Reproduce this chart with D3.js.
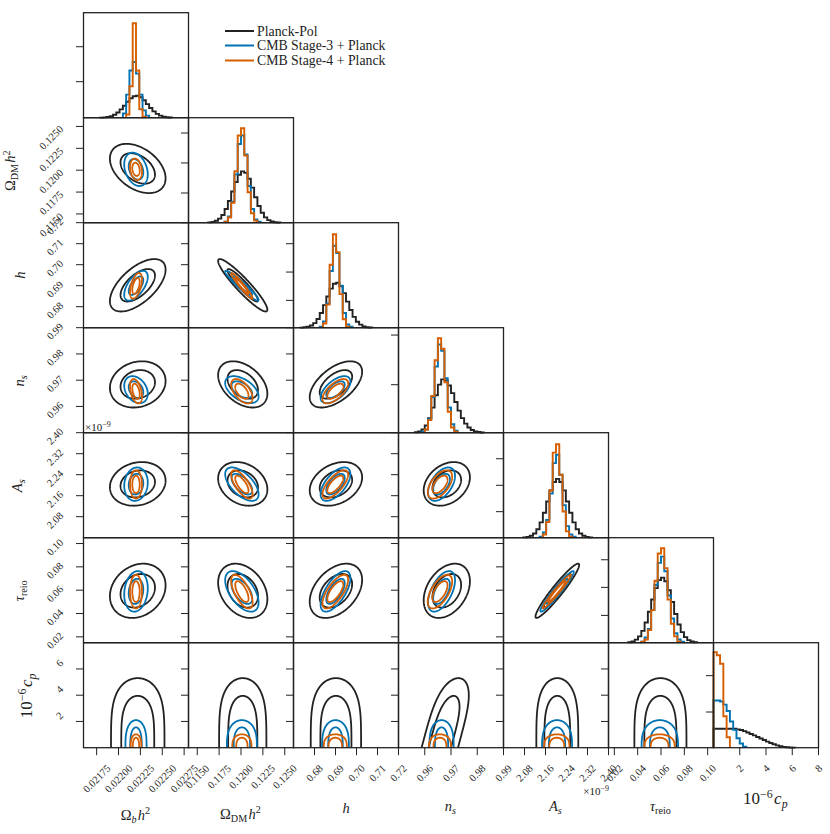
<!DOCTYPE html>
<html><head><meta charset="utf-8">
<script src="https://cdn.jsdelivr.net/npm/d3@7"></script>
<style>body{margin:0;background:#fff}svg{display:block}text{font-family:"Liberation Serif","DejaVu Serif",serif;fill:#222}</style>
</head><body><svg id="c" width="830" height="834"></svg>
<script>
// ---------------- data ----------------
const seriesNames = ["Planck-Pol", "CMB Stage-3 + Planck", "CMB Stage-4 + Planck"];
const seriesColors = ["#222222", "#0072b2", "#d55e00"];

const domains = [[0.0216, 0.0228], [0.114, 0.126], [0.67, 0.72], [0.95, 0.99], [2.0, 2.4], [0.015, 0.105], [0, 8]];
const tickVals = [
  [0.02175, 0.022, 0.02225, 0.0225, 0.02275],
  [0.115, 0.1175, 0.12, 0.1225, 0.125],
  [0.68, 0.69, 0.70, 0.71, 0.72],
  [0.96, 0.97, 0.98, 0.99],
  [2.08, 2.16, 2.24, 2.32, 2.40],
  [0.02, 0.04, 0.06, 0.08, 0.10],
  [2, 4, 6, 8]];
const tickText = [
  ["0.02175", "0.02200", "0.02225", "0.02250", "0.02275"],
  ["0.1150", "0.1175", "0.1200", "0.1225", "0.1250"],
  ["0.68", "0.69", "0.70", "0.71", "0.72"],
  ["0.96", "0.97", "0.98", "0.99"],
  ["2.08", "2.16", "2.24", "2.32", "2.40"],
  ["0.02", "0.04", "0.06", "0.08", "0.10"],
  ["2", "4", "6", "8"]];
const cpRowTicks = [2, 4, 6];

// per-series means / sigmas (Ω_b h², Ω_DM h², h, n_s, A_s[1e-9], τ_reio)
const meanPlanck = [0.02222, 0.1202, 0.6902, 0.9684, 2.205, 0.0595];
const sigmaPlanck = [0.000130, 0.00115, 0.0051, 0.0036, 0.034, 0.0095];
const meanS3 = [0.02220, 0.1201, 0.6900, 0.9664, 2.204, 0.0590];
const sigmaS3 = [0.000055, 0.00078, 0.0029, 0.0021, 0.026, 0.0071];
const meanS4 = [0.02220, 0.1201, 0.6899, 0.9658, 2.203, 0.0588];
const sigmaS4 = [0.000028, 0.00050, 0.0025, 0.0019, 0.022, 0.0059];
// correlations, pairs (row,col): (1,0),(2,0),(2,1),(3,0),(3,1),(3,2),(4,0),(4,1),(4,2),(4,3),(5,0),(5,1),(5,2),(5,3),(5,4)
const rhoPlanck = [-0.40, 0.60, -0.93, 0.15, -0.40, 0.55, 0.15, -0.25, 0.30, 0.30, 0.20, -0.30, 0.40, 0.35, 0.95];
const rhoS3 = [-0.30, 0.60, -0.95, -0.30, -0.50, 0.60, 0.10, -0.60, 0.60, 0.50, 0.15, -0.55, 0.65, 0.55, 0.96];
const rhoS4 = [-0.20, 0.50, -0.96, -0.40, -0.55, 0.65, 0.00, -0.70, 0.70, 0.55, 0.00, -0.65, 0.70, 0.60, 0.97];

// 10^-6 c_p contours (one-sided): top of 95% / 68% contour, half-widths in sigma of the other parameter
const archTop95 = [5.3, 2.1, 1.02];
const archTop68 = [3.95, 1.55, 0.76];
const archK95 = [2.35, 2.2, 2.2];
const archK68 = [1.45, 1.2, 1.3];
const archPow = [4, 3, 3];
const archShearNs = [0.00134, 0, 0];
const archWidthNs = [0.82, 1, 1];

// 1D histograms: 32 equal bins across each panel range, heights as fraction of panel height
const histPlanck = [
  [0,0,0,0,0,0.001,0.003,0.007,0.015,0.028,0.049,0.079,0.114,0.152,0.185,0.205,0.209,0.195,0.166,0.129,0.093,0.060,0.036,0.020,0.010,0.004,0.002],
  [0,0,0,0,0,0,0.003,0.008,0.019,0.039,0.074,0.131,0.207,0.297,0.387,0.457,0.489,0.475,0.419,0.334,0.242,0.159,0.095,0.051,0.025,0.011,0.005,0.002],
  [0,0,0.001,0.004,0.009,0.021,0.044,0.083,0.140,0.215,0.297,0.372,0.419,0.428,0.395,0.329,0.248,0.169,0.103,0.057,0.029,0.013,0.005,0.002],
  [0,0,0,0,0,0.004,0.011,0.030,0.069,0.138,0.239,0.356,0.458,0.508,0.498,0.450,0.377,0.292,0.210,0.139,0.086,0.049,0.026,0.013,0.006,0.002],
  [0,0,0,0,0,0,0.003,0.007,0.018,0.040,0.081,0.146,0.237,0.345,0.451,0.531,0.560,0.531,0.451,0.345,0.237,0.146,0.081,0.040,0.018,0.007,0.003],
  [0,0,0,0,0,0,0.005,0.013,0.029,0.060,0.113,0.192,0.295,0.411,0.520,0.596,0.620,0.585,0.500,0.388,0.273,0.174,0.101,0.053,0.025,0.011,0.004],
  [0.18,0.18,0.18,0.18,0.18,0.18,0.18,0.175,0.168,0.158,0.145,0.131,0.117,0.102,0.088,0.073,0.058,0.045,0.033,0.022,0.014,0.008,0.004,0.002,0.001]];
const histS3 = [
  [0,0,0,0,0,0,0,0,0,0,0,0,0.04,0.22,0.45,0.53,0.42,0.22,0.07,0.02],
  [0,0,0,0,0,0,0,0,0,0,0,0.01,0.06,0.20,0.46,0.75,0.83,0.65,0.35,0.13,0.03,0.01],
  [0,0,0,0,0,0,0,0,0.01,0.06,0.23,0.54,0.78,0.71,0.40,0.14,0.03,0.01],
  [0,0,0,0,0,0,0,0.01,0.03,0.13,0.34,0.63,0.84,0.78,0.52,0.24,0.08,0.02],
  [0,0,0,0,0,0,0,0,0,0,0,0.01,0.05,0.17,0.42,0.71,0.79,0.60,0.31,0.11,0.03,0.01],
  [0,0,0,0,0,0,0,0,0,0,0.01,0.05,0.13,0.31,0.55,0.76,0.82,0.68,0.45,0.23,0.09,0.03,0.01],
  [0.45,0.45,0.44,0.41,0.35,0.25,0.17,0.09,0.04,0.01]];
const histS4 = [
  [0,0,0,0,0,0,0,0,0,0,0,0,0,0.03,0.30,0.90,0.45,0.08,0.01],
  [0,0,0,0,0,0,0,0,0,0,0,0.01,0.05,0.19,0.49,0.83,0.90,0.64,0.29,0.09,0.02],
  [0,0,0,0,0,0,0,0,0,0.04,0.22,0.60,0.89,0.72,0.32,0.08,0.01],
  [0,0,0,0,0,0,0,0,0.03,0.12,0.35,0.69,0.90,0.80,0.48,0.20,0.05,0.01],
  [0,0,0,0,0,0,0,0,0,0,0,0,0.03,0.15,0.45,0.81,0.89,0.60,0.25,0.06,0.01],
  [0,0,0,0,0,0,0,0,0,0,0.01,0.03,0.12,0.31,0.59,0.85,0.90,0.71,0.41,0.18,0.06,0.01],
  [0.91,0.88,0.80,0.30,0.10]];
// density-axis tick positions on the diagonal panels (fraction of panel height)
const diagTicks = [[0.343,0.676],[0.283,0.569,0.854],[0.26,0.53,0.80],[0.457,0.93],[0.248,0.499,0.752],[0.26,0.527,0.79],[0.34,0.686]];

// ---------------- drawing ----------------
const svg = d3.select("#c");
const N = 7, NB = 32;
const P0x = 83.5, P0y = 12.7, PS = 105;
const px = c => P0x + c * PS, py = r => P0y + r * PS;
const xs = domains.map((d, i) => d3.scaleLinear().domain(d).range([px(i), px(i) + PS]));
const ys = domains.map((d, i) => d3.scaleLinear().domain(d).range([py(i) + PS, py(i)]));
const means = [meanPlanck, meanS3, meanS4];
const sigmas = [sigmaPlanck, sigmaS3, sigmaS4];
const rhos = [rhoPlanck, rhoS3, rhoS4];
const hists = [histPlanck, histS3, histS4];
const line = d3.line().x(d => d[0]).y(d => d[1]);

const gContent = svg.append("g");
// diagonal histograms
for (let i = 0; i < N; i++) {
  const yh = d3.scaleLinear().domain([0, 1]).range([py(i) + PS, py(i)]);
  const bw = (domains[i][1] - domains[i][0]) / NB;
  hists.forEach((hs, s) => {
    const h = hs[i];
    let first = h.findIndex(v => v > 0), last = h.length - 1;
    while (last > 0 && !(h[last] > 0)) last--;
    const pts = [[xs[i](domains[i][0] + first * bw), yh(0)]];
    for (let b = first; b <= last; b++) {
      const x0 = xs[i](domains[i][0] + b * bw), x1 = xs[i](domains[i][0] + (b + 1) * bw);
      pts.push([x0, yh(h[b])], [x1, yh(h[b])]);
    }
    pts.push([xs[i](domains[i][0] + (last + 1) * bw), yh(0)]);
    gContent.append("path").attr("d", line(pts)).attr("fill", "none")
      .attr("stroke", seriesColors[s]).attr("stroke-width", 1.9).attr("stroke-linejoin", "miter");
  });
}
// 2D contours
const levels = [2.447, 1.515];
for (let r = 1; r < N; r++) {
  for (let c = 0; c < r; c++) {
    const clipId = `clip${r}_${c}`;
    svg.append("clipPath").attr("id", clipId).append("rect").attr("x", px(c)).attr("y", py(r)).attr("width", PS).attr("height", PS);
    const g = gContent.append("g").attr("clip-path", `url(#${clipId})`);
    for (let s = 0; s < 3; s++) {
      const mx = means[s][c], sx = sigmas[s][c];
      if (r < 6) {
        const k = r * (r - 1) / 2 + c;
        const my = means[s][r], sy = sigmas[s][r], rho = rhos[s][k];
        levels.forEach(L => {
          const pts = d3.range(0, 181).map(j => {
            const t = j / 180 * 2 * Math.PI, u = Math.cos(t), v = Math.sin(t);
            return [xs[c](mx + L * sx * u), ys[r](my + L * sy * (rho * u + Math.sqrt(1 - rho * rho) * v))];
          });
          g.append("path").attr("d", line(pts) + "Z").attr("fill", "none")
            .attr("stroke", seriesColors[s]).attr("stroke-width", 1.8);
        });
      } else {
        [[archTop95[s], archK95[s]], [archTop68[s], archK68[s]]].forEach(([b, K]) => {
          const wf = (c === 3) ? archWidthNs[s] : 1;
          const a = K * sx * wf, p = archPow[s];
          const shear = (c === 3) ? archShearNs[s] : 0;
          const pts = d3.range(0, 121).map(j => {
            const th = Math.PI - j / 120 * Math.PI;
            const cv = b * Math.pow(Math.max(0, Math.sin(th)), 2 / p);
            const cx = mx + shear * (cv - 2);
            return [xs[c](cx + a * Math.cos(th)), ys[r](cv)];
          });
          g.append("path").attr("d", line(pts)).attr("fill", "none")
            .attr("stroke", seriesColors[s]).attr("stroke-width", 1.8);
        });
      }
    }
  }
}
// frames and ticks
const TL = 7.5;
for (let r = 0; r < N; r++) {
  for (let c = 0; c <= r; c++) {
    svg.append("rect").attr("x", px(c)).attr("y", py(r)).attr("width", PS).attr("height", PS)
      .attr("fill", "none").attr("stroke", "#222").attr("stroke-width", 1.3);
    let yt;
    if (r === c) yt = diagTicks[r].map(f => py(r) + PS - f * PS);
    else yt = (r === 6 ? cpRowTicks : tickVals[r]).map(v => ys[r](v));
    yt.forEach(y => svg.append("line").attr("x1", px(c) - TL).attr("x2", px(c)).attr("y1", y).attr("y2", y)
      .attr("stroke", "#222").attr("stroke-width", 1));
    if (r === 6) {
      tickVals[c].forEach(v => {
        const x = xs[c](v);
        svg.append("line").attr("x1", x).attr("x2", x).attr("y1", py(6) + PS).attr("y2", py(6) + PS + TL)
          .attr("stroke", "#222").attr("stroke-width", 1);
      });
    }
  }
}
// tick labels
const FS = 10.5, ASC = 7.3;
for (let c = 0; c < N; c++) {
  tickVals[c].forEach((v, i) => {
    const t = svg.append("text").attr("font-size", FS).attr("text-anchor", "end").text(tickText[c][i]);
    const L = t.node().getComputedTextLength();
    const x = xs[c](v) + 0.3535 * (L + ASC), y = 764 + 0.707 * ASC;
    t.attr("transform", `translate(${x},${y}) rotate(-45)`);
  });
}
for (let r = 1; r < N; r++) {
  const vals = r === 6 ? cpRowTicks : tickVals[r];
  vals.forEach(v => {
    const i = tickVals[r].indexOf(v);
    const t = svg.append("text").attr("font-size", FS).attr("text-anchor", "end").text(tickText[r][i]);
    const L = t.node().getComputedTextLength();
    const y = ys[r](v) + 0.36 * (L - 18) - 0.5;
    t.attr("transform", `translate(64,${y}) rotate(-45)`);
  });
}
// offset texts
function offsetText(x, y, anchor) {
  const t = svg.append("text").attr("x", x).attr("y", y).attr("font-size", 11).attr("text-anchor", anchor);
  t.append("tspan").text("×10");
  t.append("tspan").attr("dy", -4).attr("font-size", 8).text("−9");
}
offsetText(85, 430.5, "start");
offsetText(609, 795, "end");

// axis labels
function writeLabel(t, i, fs) {
  const sub = (txt, it) => { t.append("tspan").attr("font-size", fs * 0.7).attr("dy", fs * 0.22).attr("font-style", it ? "italic" : "normal").text(txt); t.append("tspan").attr("dy", -fs * 0.22).text("\u200a"); };
  const sup = (txt) => { t.append("tspan").attr("font-size", fs * 0.7).attr("dy", -fs * 0.38).text(txt); t.append("tspan").attr("dy", fs * 0.38).text("\u200a"); };
  const it = (txt) => t.append("tspan").attr("font-style", "italic").text(txt);
  const rm = (txt) => t.append("tspan").text(txt);
  if (i === 0) { rm("Ω"); sub("b", true); it("h"); sup("2"); }
  if (i === 1) { rm("Ω"); sub("DM", false); it("h"); sup("2"); }
  if (i === 2) { it("h"); }
  if (i === 3) { it("n"); sub("s", true); }
  if (i === 4) { it("A"); sub("s", true); }
  if (i === 5) { it("τ"); sub("reio", false); }
  if (i === 6) { rm("10"); sup("−6"); it("c"); sub("p", true); }
}
const xLabelBase = [820, 818.5, 812.5, 810.5, 810.5, 811, 804];
for (let c = 0; c < N; c++) {
  const fs = c === 6 ? 17 : 14.5;
  const t = svg.append("text").attr("font-size", fs).attr("text-anchor", "middle")
    .attr("x", px(c) + PS / 2).attr("y", xLabelBase[c]);
  writeLabel(t, c, fs);
}
const yLabelBase = [0, 15, 25, 24, 22, 23.5, 32];
for (let r = 1; r < N; r++) {
  const fs = r === 6 ? 17 : 14.5;
  const t = svg.append("text").attr("font-size", fs).attr("text-anchor", "middle")
    .attr("transform", `translate(${yLabelBase[r]},${py(r) + PS / 2}) rotate(-90)`);
  writeLabel(t, r, fs);
}
// legend
const legY = [31, 45.5, 60.5];
seriesNames.forEach((n, s) => {
  svg.append("line").attr("x1", 225).attr("x2", 254).attr("y1", legY[s]).attr("y2", legY[s])
    .attr("stroke", seriesColors[s]).attr("stroke-width", 2);
  svg.append("text").attr("x", 257).attr("y", legY[s] + 4.5).attr("font-size", 13.8).text(n);
});
</script></body></html>
